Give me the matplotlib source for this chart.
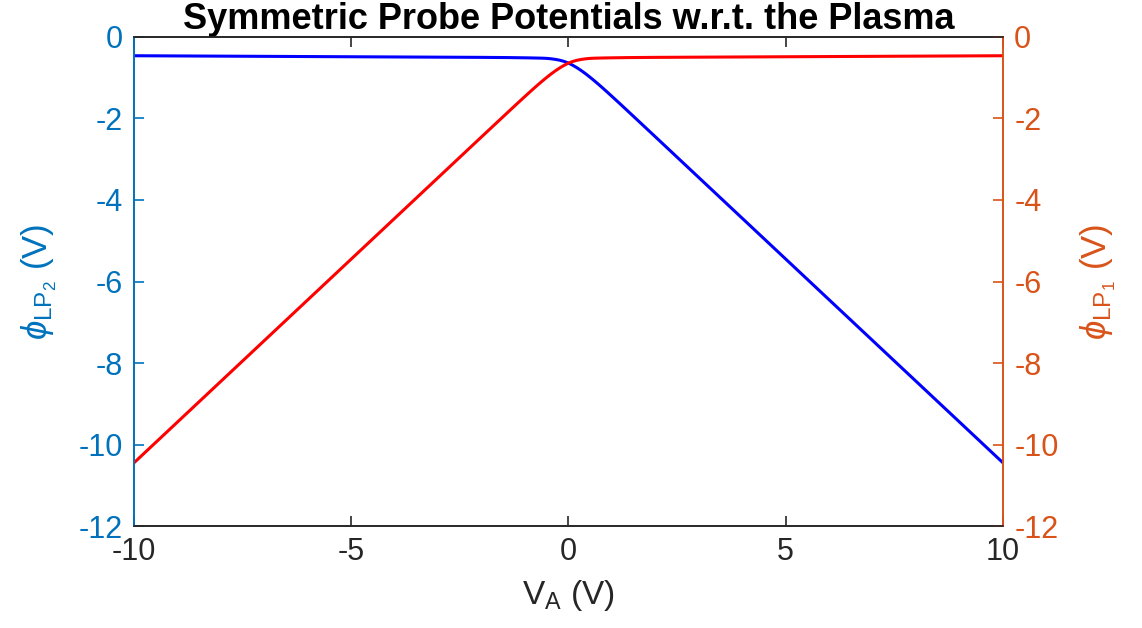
import matplotlib.pyplot as plt
import numpy as np

# applied voltage samples (V)
v_a = [-10, -8, -6, -4, -2, -1.4, -1.2, -1.0, -0.8, -0.6, -0.5, -0.4, -0.3, -0.2, -0.1, 0,
       0.1, 0.2, 0.3, 0.4, 0.5, 0.6, 0.7, 0.8, 0.9, 1.0, 1.2, 1.4, 2, 4, 6, 8, 10]
# probe 2 potential (blue, left axis)
phi_lp2 = [-0.46, -0.47, -0.48, -0.49, -0.50, -0.505, -0.508, -0.511, -0.515, -0.52, -0.525,
           -0.535, -0.55, -0.57, -0.60, -0.64, -0.695, -0.758, -0.829, -0.907, -0.991, -1.079,
           -1.17, -1.264, -1.36, -1.457, -1.653, -1.852, -2.45, -4.45, -6.45, -8.45, -10.45]
# probe 1 potential (red, right axis) - mirror image of probe 2
v_a_mirror = [-v for v in v_a[::-1]]
phi_lp1 = phi_lp2[::-1]

x_ticks = [-10, -5, 0, 5, 10]
y_ticks = [0, -2, -4, -6, -8, -10, -12]

left_col = (0, 0.447, 0.741)
right_col = (0.85, 0.325, 0.098)
ax_col = (0.15, 0.15, 0.15)

plt.rcParams['font.family'] = ['Liberation Sans', 'DejaVu Sans']
plt.rcParams['axes.unicode_minus'] = False
plt.rcParams['mathtext.fontset'] = 'custom'
plt.rcParams['mathtext.rm'] = 'Liberation Sans'
plt.rcParams['mathtext.it'] = 'Liberation Sans:italic'

fig = plt.figure(figsize=(11.42, 6.28), dpi=100)
ax = fig.add_axes([0.1173, 0.1624, 0.761, 0.7787])
ax2 = ax.twinx()

ax.plot(v_a, phi_lp2, color='blue', lw=2.2)
ax2.plot(v_a_mirror, phi_lp1, color='red', lw=2.2)

for a in (ax, ax2):
    a.set_xlim(-10, 10)
    a.set_ylim(-12, 0)
    a.set_yticks(y_ticks)
    for s in a.spines.values():
        s.set_linewidth(1.2)
    a.spines['top'].set_color(ax_col)
    a.spines['bottom'].set_color(ax_col)
    a.spines['left'].set_color(left_col)
    a.spines['right'].set_color(right_col)

ax.set_xticks(x_ticks)
ax.tick_params(axis='x', direction='in', top=True, length=7, width=1.2,
               colors=ax_col, labelsize=22, pad=8)
ax.tick_params(axis='y', direction='in', length=7, width=1.2,
               colors=left_col, labelsize=22, pad=8)
ax2.tick_params(axis='y', direction='in', length=7, width=1.2,
                colors=right_col, labelsize=22, pad=8)

ax.set_xlabel(r'V$_\mathrm{A}$ (V)', fontsize=24, color=ax_col, labelpad=8)
ax.set_ylabel(r'$\phi_{\mathrm{LP}_2}$ (V)', fontsize=25, color=left_col, labelpad=14)
ax2.set_ylabel(r'$\phi_{\mathrm{LP}_1}$ (V)', fontsize=25, color=right_col, labelpad=14)
ax.set_title('Symmetric Probe Potentials w.r.t. the Plasma', fontsize=26,
             fontweight='bold', pad=5)

fig.savefig('out.png', dpi=100)
